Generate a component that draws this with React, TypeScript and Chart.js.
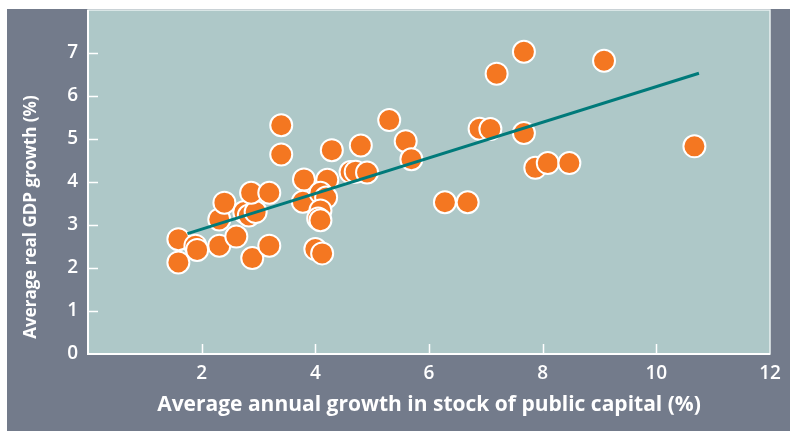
import React, { useEffect, useRef } from "react";
import { Chart, registerables } from "chart.js";

Chart.register(...registerables);

// Average annual growth in stock of public capital (%)
const capitalGrowth = [
  1.59, 1.59, 1.89, 1.92, 2.31, 2.4, 2.31, 2.61, 2.75, 2.83, 2.95, 2.87, 2.89, 3.19, 3.19,
  3.4, 3.4, 3.8, 3.78, 4.21, 4.09, 4.19, 4.09, 4.05, 4.09, 4.0, 4.12, 4.29, 4.62, 4.71,
  4.91, 4.8, 5.3, 5.59, 5.69, 6.28, 6.68, 6.89, 7.08, 7.19, 7.67, 7.67, 7.87, 8.09, 8.47,
  9.08, 10.67,
];
// Average real GDP growth (%)
const gdpGrowth = [
  2.67, 2.13, 2.52, 2.42, 3.13, 3.52, 2.52, 2.73, 3.3, 3.22, 3.3, 3.75, 2.23, 3.75, 2.52,
  5.32, 4.64, 4.06, 3.54, 4.05, 3.75, 3.64, 3.34, 3.15, 3.11, 2.44, 2.34, 4.74, 4.23, 4.24,
  4.22, 4.85, 5.44, 4.95, 4.53, 3.53, 3.53, 5.24, 5.23, 6.52, 7.03, 5.14, 4.33, 4.44, 4.44,
  6.82, 4.83,
];
// Fitted trend line end points
const trendX = [1.75, 10.75];
const trendY = [2.8, 6.53];

const xTickValues = [2, 4, 6, 8, 10, 12];
const yTickValues = [0, 1, 2, 3, 4, 5, 6, 7];
const xTitle = "Average annual growth in stock of public capital (%)";
const yTitle = "Average real GDP growth (%)";

const PANEL = "#737b8b";
const PLOT_BG = "#aec8c8";
const ORANGE = "#f47721";
const TEAL = "#007a7a";
const FONT = '"Open Sans", "DejaVu Sans", sans-serif';

const W = 783;
const H = 422;

const decorPlugin = {
  id: "decor",
  beforeDraw(chart: any) {
    const { ctx, chartArea: a } = chart;
    ctx.save();
    ctx.fillStyle = PLOT_BG;
    ctx.fillRect(a.left, a.top, a.right - a.left, a.bottom - a.top);
    ctx.restore();
  },
  beforeDatasetsDraw(chart: any) {
    const { ctx, chartArea: a, scales } = chart;
    ctx.save();
    ctx.strokeStyle = "#e8f0f0";
    ctx.lineWidth = 1.5;
    ctx.strokeRect(a.left, a.top, a.right - a.left, a.bottom - a.top);
    ctx.strokeStyle = "#ffffff";
    ctx.lineWidth = 2;
    ctx.beginPath();
    ctx.moveTo(a.left, a.top);
    ctx.lineTo(a.left, a.bottom);
    ctx.lineTo(a.right, a.bottom);
    ctx.stroke();
    ctx.lineWidth = 1.5;
    ctx.beginPath();
    for (const v of yTickValues) {
      if (v === 0) continue;
      const y = Math.round(scales.y.getPixelForValue(v)) + 0.5;
      ctx.moveTo(a.left, y);
      ctx.lineTo(a.left + 10, y);
    }
    for (const v of xTickValues) {
      if (v >= 12) continue;
      const x = Math.round(scales.x.getPixelForValue(v)) + 0.5;
      ctx.moveTo(x, a.bottom);
      ctx.lineTo(x, a.bottom - 10);
    }
    ctx.stroke();
    ctx.restore();
  },
  afterDraw(chart: any) {
    const { ctx } = chart;
    ctx.save();
    ctx.translate(24, 208);
    ctx.rotate(-Math.PI / 2);
    ctx.textAlign = "center";
    ctx.textBaseline = "middle";
    ctx.fillStyle = "#ffffff";
    ctx.font = `bold 17px ${FONT}`;
    ctx.fillText(yTitle, 0, 0);
    ctx.restore();
  },
};

export default function App() {
  const ref = useRef<HTMLCanvasElement>(null);

  useEffect(() => {
    if (!ref.current) return;
    const points = capitalGrowth.map((x, i) => ({ x, y: gdpGrowth[i] }));
    const trend = trendX.map((x, i) => ({ x, y: trendY[i] }));
    const tickFont = { family: FONT, size: 19, weight: "600" as any };
    const chart = new Chart(ref.current, {
      type: "scatter",
      data: {
        datasets: [
          {
            type: "line",
            data: trend,
            borderColor: TEAL,
            borderWidth: 3,
            pointRadius: 0,
            fill: false,
            order: 0,
          } as any,
          {
            type: "scatter",
            data: points,
            backgroundColor: ORANGE,
            borderColor: "#ffffff",
            borderWidth: 2,
            pointRadius: 11,
            order: 1,
          },
        ],
      },
      plugins: [decorPlugin],
      options: {
        responsive: false,
        animation: false,
        devicePixelRatio: 1,
        layout: { autoPadding: false, padding: { top: 1, right: 20, left: 0, bottom: 0 } },
        plugins: {
          legend: { display: false },
          tooltip: { enabled: false },
        },
        scales: {
          x: {
            type: "linear",
            min: 0,
            max: 12,
            afterBuildTicks: (s: any) => {
              s.ticks = xTickValues.map((v) => ({ value: v }));
            },
            afterFit: (s: any) => {
              s.height = 77;
            },
            grid: { display: false, drawTicks: false },
            border: { display: false },
            ticks: {
              color: "#ffffff",
              font: tickFont,
              padding: 8,
              maxRotation: 0,
              autoSkip: false,
            },
            title: {
              display: true,
              text: xTitle,
              color: "#ffffff",
              font: { family: FONT, size: 21, weight: "bold" },
              padding: { top: 0, bottom: 13 },
            },
          },
          y: {
            type: "linear",
            min: 0,
            max: 8,
            afterBuildTicks: (s: any) => {
              s.ticks = yTickValues.map((v) => ({ value: v }));
            },
            afterFit: (s: any) => {
              s.width = 81;
              s.paddingTop = 0;
              s.paddingBottom = 0;
            },
            grid: { display: false, drawTicks: false },
            border: { display: false },
            ticks: {
              color: "#ffffff",
              font: tickFont,
              padding: 10,
              autoSkip: false,
            },
          },
        },
      },
    });
    return () => chart.destroy();
  }, []);

  return (
    <div
      style={{
        position: "fixed",
        left: 7,
        top: 9,
        width: W,
        height: H,
        background: PANEL,
      }}
    >
      <canvas ref={ref} width={W} height={H} style={{ display: "block", width: W, height: H }} />
    </div>
  );
}
